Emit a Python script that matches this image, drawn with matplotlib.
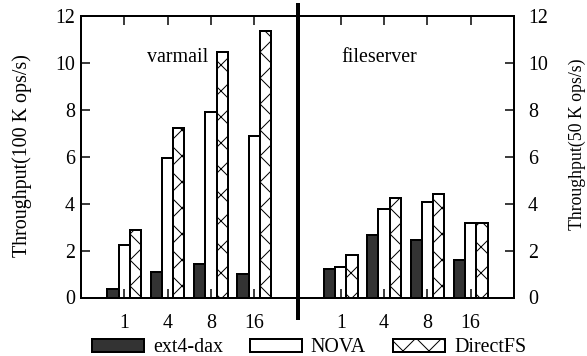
import numpy as np
import matplotlib
matplotlib.use("Agg")
import matplotlib.pyplot as plt
from matplotlib.transforms import blended_transform_factory

# ---- data ----
threads = ['1', '4', '8', '16']
series_names = ['ext4-dax', 'NOVA', 'DirectFS']
varmail_ext4 = [0.38, 1.07, 1.42, 1.01]
varmail_nova = [2.22, 5.93, 7.89, 6.87]
varmail_dfs = [2.86, 7.24, 10.47, 11.37]
file_ext4 = [1.21, 2.66, 2.46, 1.60]
file_nova = [1.28, 3.79, 4.09, 3.18]
file_dfs = [1.82, 4.26, 4.43, 3.18]
workloads = ['varmail', 'fileserver']

DPI = 78
PX = 72.0 / DPI  # points per pixel

plt.rcParams['font.family'] = ['Liberation Serif', 'DejaVu Serif']
plt.rcParams['hatch.linewidth'] = 1.0 * PX
FS = 20 * PX

fig = plt.figure(figsize=(587 / DPI, 356 / DPI), dpi=DPI)
ax = fig.add_axes([81 / 587, 1 - 297.5 / 356, (514 - 81) / 587, (297.5 - 16) / 356])

pos_left = np.arange(len(threads))
pos_right = np.arange(len(threads)) + len(threads) + 1
w = 0.26
off = 0.26
lw = 2.0 * PX
dark = '#333333'

styles = [dict(facecolor=dark, edgecolor='black'),
          dict(facecolor='white', edgecolor='black'),
          dict(facecolor='white', edgecolor='black', hatch='x')]

left_data = [varmail_ext4, varmail_nova, varmail_dfs]
right_data = [file_ext4, file_nova, file_dfs]
handles = []
for i, (ld, rd, st) in enumerate(zip(left_data, right_data, styles)):
    b = ax.bar(pos_left + (i - 1) * off, ld, width=w, linewidth=lw, label=series_names[i], **st)
    ax.bar(pos_right + (i - 1) * off, rd, width=w, linewidth=lw, **st)
    handles.append(b)

ax.set_xlim(-1, 9)
ax.set_ylim(0, 12)
ax.set_xticks(np.concatenate([pos_left, pos_right]))
ax.set_xticklabels(threads + threads, fontsize=FS)
ax.set_yticks(np.arange(0, 13, 2))
ax.set_yticklabels([str(v) for v in range(0, 13, 2)], fontsize=FS)
ax.tick_params(axis='x', direction='in', top=True, bottom=True, length=9 * PX,
               width=1.5 * PX, pad=16 * PX)
ax.tick_params(axis='y', direction='in', left=True, right=False, length=9 * PX,
               width=1.5 * PX, pad=6 * PX)
for s in ax.spines.values():
    s.set_linewidth(2.0 * PX)

ax2 = ax.twinx()
ax2.set_ylim(0, 12)
ax2.set_yticks(np.arange(0, 13, 2))
ax2.set_yticklabels([str(v) for v in range(0, 13, 2)], fontsize=FS)
ax2.tick_params(axis='y', direction='in', length=9 * PX, width=1.5 * PX, pad=14 * PX)
for s in ax2.spines.values():
    s.set_linewidth(2.0 * PX)

# separator
trans = blended_transform_factory(ax.transData, ax.transAxes)
ax.plot([len(threads), len(threads)], [-0.08, 1.045], color='black',
        linewidth=4 * PX, transform=trans, clip_on=False, solid_capstyle='butt', zorder=5)

# workload labels
ax.text(1.24, 10.05, workloads[0], fontsize=FS, ha='center', va='baseline')
ax.text(5.88, 10.05, workloads[1], fontsize=FS, ha='center', va='baseline')

# axis labels
fig.text(22 / 587, 1 - 156 / 356, 'Throughput(100 K ops/s)', rotation=90,
         fontsize=FS, ha='center', va='center')
fig.text(577 / 587, 1 - 144 / 356, 'Throughput(50 K ops/s)', rotation=90,
         fontsize=17.8 * PX, ha='center', va='center')

fig.legend(handles=handles, labels=series_names, loc='center',
           bbox_to_anchor=(309 / 587, 1 - 348 / 356), ncol=3, frameon=False,
           fontsize=FS, handlelength=2.6, handleheight=0.65, handletextpad=0.45,
           columnspacing=1.35, borderpad=0, borderaxespad=0)

fig.savefig('out.png', dpi=DPI)
